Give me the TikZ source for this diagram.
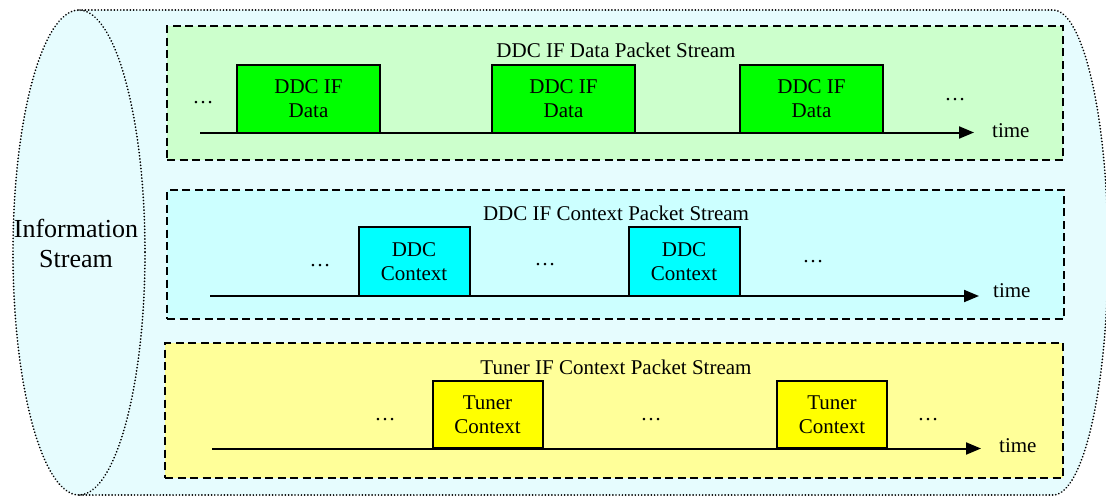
\documentclass[tikz,border=0pt]{standalone}
\usepackage{fontspec}
\setmainfont{Liberation Serif}
\usetikzlibrary{arrows.meta}

\definecolor{cylfill}{RGB}{230,252,254}
\definecolor{bandgreen}{HTML}{CCFFCC}
\definecolor{bandcyan}{HTML}{CCFFFF}
\definecolor{bandyellow}{HTML}{FFFF99}
\definecolor{pktgreen}{HTML}{00FF00}
\definecolor{pktcyan}{HTML}{00FFFF}
\definecolor{pktyellow}{HTML}{FFFF00}

\begin{document}
\begin{tikzpicture}[x=1pt,y=-1pt,
  dotline/.style={line width=1.9pt, dash pattern=on 0.01pt off 3.2pt, line cap=round},
  band/.style={draw, line width=1.8pt, dash pattern=on 8pt off 4.5pt, inner sep=0pt},
  pkt/.style={draw, line width=2pt, inner sep=0pt, align=center,
    font=\fontsize{21}{24}\selectfont},
  title/.style={anchor=base, inner sep=0pt, font=\fontsize{21}{24}\selectfont},
  lbl/.style={anchor=base west, inner sep=0pt, font=\fontsize{21}{24}\selectfont},
  dots/.style={anchor=base, inner sep=0pt, font=\fontsize{21}{24}\selectfont},
  timeline/.style={line width=2pt, -{Triangle[length=15pt,width=12pt]}}]

\useasboundingbox (0,0) rectangle (1106,496);

% cylinder body: left end cap, top and bottom edges, right rounded end
\fill[cylfill] (79,10) -- (1053,10)
  arc[start angle=-90, end angle=90, x radius=55, y radius=242.5]
  -- (79,495)
  arc[start angle=90, end angle=270, x radius=66, y radius=242.5] -- cycle;
\draw[dotline] (79,10) -- (1053,10)
  arc[start angle=-90, end angle=90, x radius=55, y radius=242.5]
  -- (79,495);
\draw[dotline] (79,252.5) ellipse[x radius=66, y radius=242.5];
\node[align=center, inner sep=0pt, font=\fontsize{26}{30}\selectfont] (info) at (76,243) {Information\\Stream};

% stream bands
\node[band, fill=bandgreen, minimum width=896pt, minimum height=134pt] (band1) at (615,93) {};
\node[band, fill=bandcyan, minimum width=897pt, minimum height=129pt] (band2) at (615.5,254.5) {};
\node[band, fill=bandyellow, minimum width=898pt, minimum height=135pt] (band3) at (614,410.5) {};

\node[title] (title1) at (616,57) {DDC IF Data Packet Stream};
\node[title] (title2) at (616,220) {DDC IF Context Packet Stream};
\node[title] (title3) at (616,374) {Tuner IF Context Packet Stream};

% time axes
\coordinate (t1s) at (200,132.5);
\coordinate (t1e) at (974,132.5);
\coordinate (t2s) at (210,296);
\coordinate (t2e) at (979,296);
\coordinate (t3s) at (212,448.5);
\coordinate (t3e) at (981,448.5);
\draw[timeline] (t1s) -- (t1e);
\draw[timeline] (t2s) -- (t2e);
\draw[timeline] (t3s) -- (t3e);
\node[lbl] (time1) at (992,137) {time};
\node[lbl] (time2) at (993,297) {time};
\node[lbl] (time3) at (999,452) {time};

% DDC IF data packets
\node[pkt, fill=pktgreen, minimum width=143pt, minimum height=68pt] (d1) at (308.5,98.5) {DDC IF\\Data};
\node[pkt, fill=pktgreen, minimum width=143pt, minimum height=68pt] (d2) at (563.5,98.5) {DDC IF\\Data};
\node[pkt, fill=pktgreen, minimum width=143pt, minimum height=68pt] (d3) at (811.5,98.5) {DDC IF\\Data};
\node[dots] (e1a) at (203,103) {…};
\node[dots] (e1b) at (955,100) {…};

% DDC IF context packets
\node[pkt, fill=pktcyan, minimum width=111pt, minimum height=69pt] (c1) at (414,261.5) {DDC\\Context};
\node[pkt, fill=pktcyan, minimum width=111pt, minimum height=69pt] (c2) at (684,261.5) {DDC\\Context};
\node[dots] (e2a) at (320,266) {…};
\node[dots] (e2b) at (545,265) {…};
\node[dots] (e2c) at (813,262) {…};

% tuner IF context packets
\node[pkt, fill=pktyellow, minimum width=110pt, minimum height=67pt] (u1) at (487.5,414.5) {Tuner\\Context};
\node[pkt, fill=pktyellow, minimum width=110pt, minimum height=67pt] (u2) at (832,414.5) {Tuner\\Context};
\node[dots] (e3a) at (385,420) {…};
\node[dots] (e3b) at (651,420) {…};
\node[dots] (e3c) at (928,420) {…};

\end{tikzpicture}
\end{document}
